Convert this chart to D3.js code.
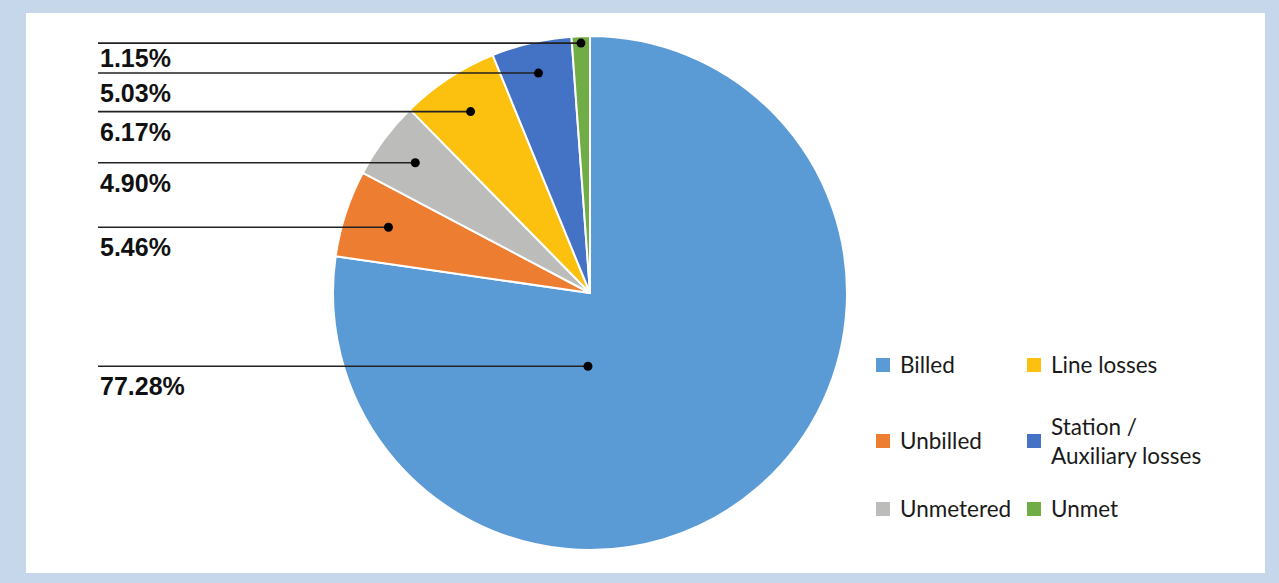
<!DOCTYPE html>
<html>
<head>
<meta charset="utf-8">
<script src="https://cdn.jsdelivr.net/npm/d3@7"></script>
<style>
  html, body { margin: 0; padding: 0; background: #c7d7eb; }
  svg { display: block; }
</style>
</head>
<body>
<svg id="chart" width="1279" height="583"></svg>
<script>
// ---- data ----
const categories = ["Billed", "Unbilled", "Unmetered", "Line losses", "Station / Auxiliary losses", "Unmet"];
const values = [77.28, 5.46, 4.90, 6.17, 5.03, 1.15];
const valueLabels = ["77.28%", "5.46%", "4.90%", "6.17%", "5.03%", "1.15%"];
const colors = ["#5b9bd5", "#ed7d31", "#bcbcbb", "#fcc00e", "#4472c4", "#70ad47"];
// leader dot placement: radius fraction along slice mid-angle (Billed uses its own angle)
const leaderRadius = [0.285, 0.825, 0.848, 0.845, 0.879, 0.973];
const leaderAngleDeg = [181.6, null, null, null, null, null];

// ---- layout ----
const W = 1279, H = 583;
const cx = 590, cy = 293, R = 257;
const svg = d3.select("#chart");

svg.append("rect").attr("x", 0).attr("y", 0).attr("width", W).attr("height", H).attr("fill", "#c7d7eb");
svg.append("rect").attr("x", 26).attr("y", 13).attr("width", 1239).attr("height", 560).attr("fill", "#ffffff");

const pie = d3.pie().sort(null).value(d => d)(values);
const arc = d3.arc().innerRadius(0).outerRadius(R);

const g = svg.append("g").attr("transform", `translate(${cx},${cy})`);
g.selectAll("path").data(pie).join("path")
  .attr("d", arc)
  .attr("fill", (d, i) => colors[i])
  .attr("stroke", "#ffffff")
  .attr("stroke-width", 2)
  .attr("stroke-linejoin", "round");

// leader points
const pts = pie.map((d, i) => {
  const a = leaderAngleDeg[i] != null ? leaderAngleDeg[i] * Math.PI / 180 : (d.startAngle + d.endAngle) / 2;
  const r = leaderRadius[i] * R;
  return { x: cx + Math.sin(a) * r, y: cy - Math.cos(a) * r, i };
});

const lineX0 = 98;
const sortedY = pts.map(p => p.y).sort((a, b) => a - b);
pts.forEach(p => {
  svg.append("line")
    .attr("x1", lineX0).attr("x2", p.x)
    .attr("y1", p.y).attr("y2", p.y)
    .attr("stroke", "#222").attr("stroke-width", 1.6);
  svg.append("circle").attr("cx", p.x).attr("cy", p.y).attr("r", 4.5).attr("fill", "#000");
  const next = sortedY.find(y => y > p.y + 1);
  let ty = p.y + 29;
  if (next !== undefined) ty = Math.min(ty, next - 6);
  svg.append("text")
    .attr("x", 100).attr("y", ty)
    .attr("font-family", "'Liberation Sans', Arial, sans-serif")
    .attr("font-weight", "bold")
    .attr("font-size", 25)
    .attr("fill", "#111")
    .text(valueLabels[p.i]);
});

// legend
const legendCols = [876, 1027];
const legendRows = [365, 441, 509];
categories.forEach((name, k) => {
  const col = Math.floor(k / 3), row = k % 3;
  const x = legendCols[col], y = legendRows[row];
  svg.append("rect").attr("x", x).attr("y", y - 7).attr("width", 14).attr("height", 14).attr("fill", colors[k]);
  const words = name === "Station / Auxiliary losses" ? ["Station /", "Auxiliary losses"] : [name];
  const t = svg.append("text")
    .attr("font-family", "Lato, 'Open Sans', sans-serif")
    .attr("font-size", 22.5)
    .attr("fill", "#1a1a1a");
  words.forEach((w, wi) => {
    t.append("tspan").attr("x", x + 24)
      .attr("y", y + 8 + (wi - (words.length - 1) / 2) * 29)
      .text(w);
  });
});
</script>
</body>
</html>
